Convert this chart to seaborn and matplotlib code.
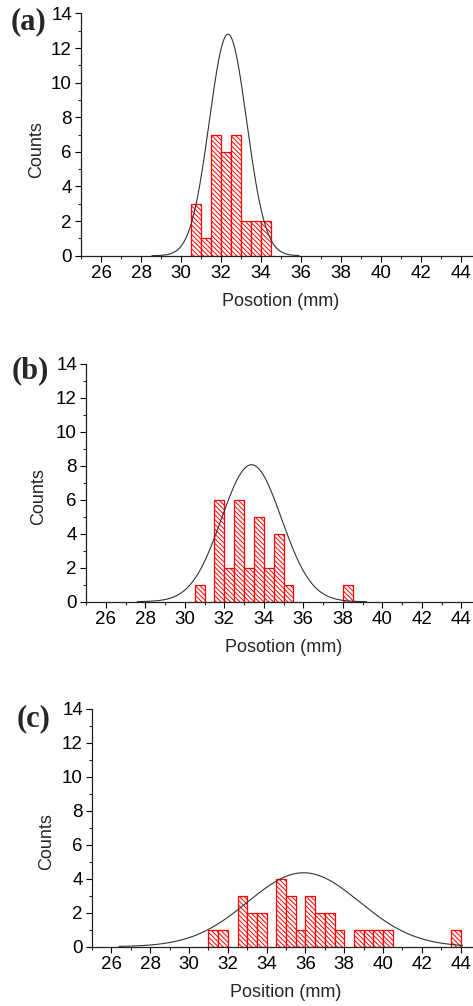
import numpy as np
import pandas as pd
import matplotlib
matplotlib.use("Agg")
import matplotlib.pyplot as plt
from matplotlib.ticker import MultipleLocator
import seaborn as sns

sns.set_theme(style="ticks")
plt.rcParams["font.family"] = ["Liberation Sans", "DejaVu Sans"]
plt.rcParams["hatch.color"] = "red"
plt.rcParams["hatch.linewidth"] = 0.7

# histogram data: left edge of each 0.5 mm bin and its count
a_left = [30.5, 31.0, 31.5, 32.0, 32.5, 33.0, 33.5, 34.0]
a_count = [3, 1, 7, 6, 7, 2, 2, 2]

b_left = [30.5, 31.5, 32.0, 32.5, 33.0, 33.5, 34.0, 34.5, 35.0, 38.0]
b_count = [1, 6, 2, 6, 2, 5, 2, 4, 1, 1]

c_left = [31.0, 31.5, 32.5, 33.0, 33.5, 34.5, 35.0, 35.5, 36.0, 36.5,
          37.0, 37.5, 38.5, 39.0, 39.5, 40.0, 43.5]
c_count = [1, 1, 3, 2, 2, 4, 3, 1, 3, 2, 2, 1, 1, 1, 1, 1, 1]

# gaussian fits: peak, centre, sigma, drawn range
a_fit = (12.8, 32.35, 0.935, 28.55, 35.9)
b_fit = (8.05, 33.38, 1.52, 27.6, 39.2)
c_fit = (4.35, 35.91, 2.88, 26.4, 44.1)

labels = ["(a)", "(b)", "(c)"]
xlabels = ["Posotion (mm)", "Posotion (mm)", "Position (mm)"]
bin_w = 0.5

fig = plt.figure(figsize=(4.73, 10.06), dpi=100)
W, H = 473, 1006
# axes boxes in pixels: left, top, bottom (right end lies just past the crop)
boxes = [(81, 13.4, 255.7, 20.0), (86, 363.5, 601.7, 19.75), (92, 708.7, 946.7, 19.4)]
letter_pos = [(11, 22), (12, 371), (17, 719)]
ylabel_x = [45, 47, 55]

panels = [(a_left, a_count, a_fit), (b_left, b_count, b_fit), (c_left, c_count, c_fit)]

for i, (lefts, counts, fit) in enumerate(panels):
    left, top, bottom, ppu = boxes[i]
    width = 20 * ppu
    ax = fig.add_axes([left / W, 1 - bottom / H, width / W, (bottom - top) / H])

    df = pd.DataFrame({"pos": np.array(lefts) + bin_w / 2, "n": counts})
    n_bins = int(round((max(lefts) - min(lefts)) / bin_w)) + 1
    edges = [min(lefts) + k * bin_w for k in range(n_bins + 1)]
    sns.histplot(data=df, x="pos", weights="n", bins=edges, ax=ax,
                 color="white", edgecolor="red", linewidth=0.9, alpha=1)
    for p in list(ax.patches):
        if p.get_height() == 0:
            p.remove()
        else:
            p.set_hatch("\\\\\\\\\\\\\\")
            p.set_facecolor("white")
            p.set_edgecolor("red")

    amp, xc, sig, x0, x1 = fit
    xs = np.linspace(x0, x1, 300)
    ys = amp * np.exp(-(xs - xc) ** 2 / (2 * sig ** 2))
    sns.lineplot(x=xs, y=ys, ax=ax, color="#333333", linewidth=0.8)

    ax.set_xlim(25, 45)
    ax.set_ylim(0, 14)
    ax.xaxis.set_major_locator(MultipleLocator(2))
    ax.xaxis.set_minor_locator(MultipleLocator(1))
    ax.yaxis.set_major_locator(MultipleLocator(2))
    ax.yaxis.set_minor_locator(MultipleLocator(1))
    ax.set_xticks(np.arange(26, 45, 2))
    ax.tick_params(which="major", direction="out", length=4, width=0.8,
                   labelsize=13.5, colors="black", pad=2.5)
    ax.tick_params(which="minor", direction="out", length=2.5, width=0.8)
    sns.despine(ax=ax)
    for s in ["left", "bottom"]:
        ax.spines[s].set_linewidth(0.9)
        ax.spines[s].set_color("#222222")

    ax.set_ylabel("Counts", fontsize=13)
    ax.set_xlabel(xlabels[i], fontsize=13)
    ax.yaxis.set_label_coords((ylabel_x[i] - left) / width, 0.44)
    ax.xaxis.set_label_coords(0.5, -37 / (bottom - top))

    lx, ly = letter_pos[i]
    fig.text(lx / W, 1 - ly / H, labels[i], ha="left", va="center",
             fontsize=22, fontweight="bold", family="Liberation Serif")

fig.savefig("out.png", dpi=100)
